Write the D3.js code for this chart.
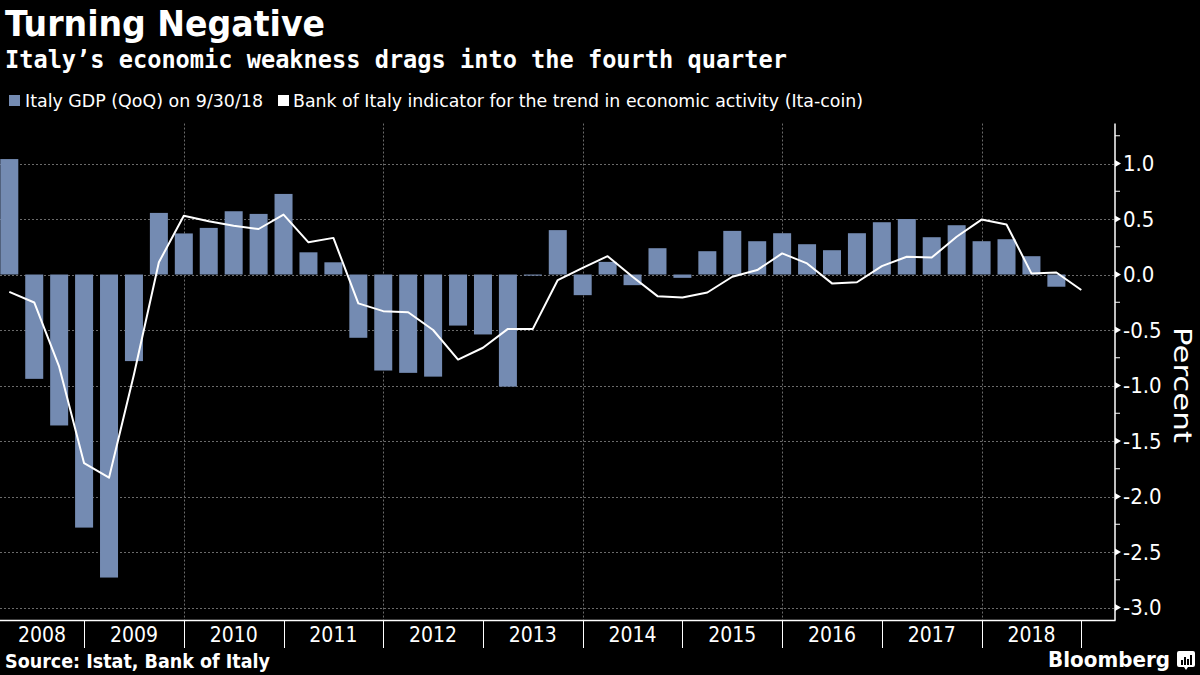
<!DOCTYPE html>
<html>
<head>
<meta charset="utf-8">
<script src="https://cdn.jsdelivr.net/npm/d3@7"></script>
<style>
  html, body { margin: 0; padding: 0; background: #000; }
  svg { display: block; }
</style>
</head>
<body>
<svg id="chart" width="1200" height="675"></svg>
<script>
// ---- Data ----
const years = [2008, 2009, 2010, 2011, 2012, 2013, 2014, 2015, 2016, 2017, 2018];
// Italy GDP QoQ, Q1 2008 .. Q3 2018
const gdpValues = [
  1.04, -0.94, -1.36, -2.28,
  -2.73, -0.78, 0.555, 0.37,
  0.42, 0.57, 0.546, 0.726,
  0.20, 0.11, -0.57, -0.865,
  -0.886, -0.92, -0.46, -0.54,
  -1.01, -0.01, 0.40, -0.186,
  0.114, -0.096, 0.237, -0.03,
  0.21, 0.393, 0.30, 0.372,
  0.273, 0.219, 0.372, 0.471,
  0.50, 0.336, 0.444, 0.30,
  0.318, 0.165, -0.11
];
// Ita-coin, Q1 2008 .. Q4 2018
const itaCoinValues = [
  -0.157, -0.252, -0.83, -1.70,
  -1.83, -0.90, 0.11, 0.53,
  0.48, 0.44, 0.41, 0.54,
  0.29, 0.33, -0.26, -0.33,
  -0.34, -0.50, -0.766, -0.66,
  -0.49, -0.49, -0.05, 0.06,
  0.165, -0.02, -0.195, -0.207,
  -0.162, -0.02, 0.04, 0.19,
  0.10, -0.08, -0.07, 0.075,
  0.16, 0.153, 0.34, 0.495,
  0.45, 0.01, 0.018, -0.14
];
const yTicks = [1.0, 0.5, 0.0, -0.5, -1.0, -1.5, -2.0, -2.5, -3.0];
const yMinorTicks = [1.25, 0.75, 0.25, -0.25, -0.75, -1.25, -1.75, -2.25, -2.75];
const gridYears = [2010, 2012, 2014, 2016, 2018];

const titleText = "Turning Negative";
const subtitleText = "Italy\u2019s economic weakness drags into the fourth quarter";
const legendLabels = ["Italy GDP (QoQ) on 9/30/18", "Bank of Italy indicator for the trend in economic activity (Ita-coin)"];
const sourceText = "Source: Istat, Bank of Italy";

// ---- Helpers ----
// quarter-end position in fractional years: Q1 2008 -> 2008.25
const qPos = i => 2008 + (i + 1) / 4;

const BAR = "#748bb2";
const GRID = "#6a6a6a";
const narrow = "'Liberation Sans Narrow', 'DejaVu Sans Condensed', 'Roboto Condensed', 'Arial Narrow', sans-serif";

const svg = d3.select("#chart");
svg.append("rect").attr("width", 1200).attr("height", 675).attr("fill", "#000");

const plotRight = 1115;
const plotBottom = 620.5;

const x = d3.scaleLinear().domain([2008.25, 2019]).range([9.3, 1081.3]);
const y = d3.scaleLinear().domain([-3.117, 1.36]).range([plotBottom, plotBottom - 4.477 * 111]);
const plotTop = y.range()[1];

// ---- Titles ----
svg.append("text").attr("x", 5).attr("y", 36)
  .attr("font-family", narrow).attr("font-weight", "bold").attr("font-size", 35)
  .attr("fill", "#fff").attr("textLength", 320).attr("lengthAdjust", "spacingAndGlyphs")
  .text(titleText);
svg.append("text").attr("x", 5).attr("y", 68)
  .attr("font-family", "'DejaVu Sans Mono', monospace").attr("font-weight", "bold").attr("font-size", 24)
  .attr("fill", "#fff").attr("textLength", 782).attr("lengthAdjust", "spacingAndGlyphs")
  .text(subtitleText);

// ---- Legend ----
const legend = [
  { sx: 9, tx: 25, tw: 238, color: BAR, label: legendLabels[0] },
  { sx: 278, tx: 293, tw: 570, color: "#fff", label: legendLabels[1] }
];
legend.forEach(l => {
  svg.append("rect").attr("x", l.sx).attr("y", 95).attr("width", 11).attr("height", 11).attr("fill", l.color);
  svg.append("text").attr("x", l.tx).attr("y", 107)
    .attr("font-family", narrow).attr("font-size", 18).attr("fill", "#fff")
    .attr("textLength", l.tw).attr("lengthAdjust", "spacingAndGlyphs")
    .text(l.label);
});

// ---- Grid ----
const grid = svg.append("g").attr("stroke", GRID).attr("stroke-width", 1).attr("stroke-dasharray", "2,2");
yTicks.forEach(t => {
  grid.append("line").attr("x1", 0).attr("x2", plotRight)
    .attr("y1", Math.round(y(t)) + 0.5).attr("y2", Math.round(y(t)) + 0.5);
});
gridYears.forEach(yr => {
  grid.append("line").attr("y1", plotTop).attr("y2", plotBottom)
    .attr("x1", Math.round(x(yr)) + 0.5).attr("x2", Math.round(x(yr)) + 0.5);
});

// ---- Bars ----
const barW = 18;
svg.append("g").selectAll("rect").data(gdpValues).join("rect")
  .attr("x", (d, i) => x(qPos(i)) - barW / 2)
  .attr("width", barW)
  .attr("y", d => y(Math.max(0, d)))
  .attr("height", d => Math.max(0.8, Math.abs(y(d) - y(0))))
  .attr("fill", BAR);

// ---- Line ----
const line = d3.line().x((d, i) => x(qPos(i))).y(d => y(d));
svg.append("path").datum(itaCoinValues)
  .attr("d", line).attr("fill", "none").attr("stroke", "#fff")
  .attr("stroke-width", 2).attr("stroke-linejoin", "round");

// ---- Axes frame ----
svg.append("line").attr("x1", 0).attr("x2", plotRight + 0.5)
  .attr("y1", plotBottom).attr("y2", plotBottom).attr("stroke", "#fff").attr("stroke-width", 1.5);
svg.append("line").attr("x1", plotRight).attr("x2", plotRight)
  .attr("y1", plotTop).attr("y2", plotBottom).attr("stroke", "#fff").attr("stroke-width", 1.5);

// y ticks
const yAx = svg.append("g");
yTicks.forEach(t => {
  const yy = y(t);
  yAx.append("path").attr("d", `M${plotRight},${yy - 3.5}L${plotRight + 6},${yy}L${plotRight},${yy + 3.5}Z`).attr("fill", "#fff");
  yAx.append("text").attr("x", plotRight + 8).attr("y", yy).attr("dy", "0.36em")
    .attr("font-family", narrow).attr("font-size", 22).attr("fill", "#fff")
    .text(t.toFixed(1));
});
yMinorTicks.forEach(t => {
  yAx.append("line").attr("x1", plotRight).attr("x2", plotRight + 5)
    .attr("y1", y(t)).attr("y2", y(t)).attr("stroke", "#fff").attr("stroke-width", 1);
});
svg.append("text")
  .attr("transform", `translate(1174, ${y(-0.5) + 55}) rotate(90)`)
  .attr("text-anchor", "middle")
  .attr("font-family", narrow).attr("font-size", 25).attr("fill", "#fff")
  .attr("textLength", 116).attr("lengthAdjust", "spacingAndGlyphs")
  .text("Percent");

// x axis: year separators and labels
const xAx = svg.append("g");
years.concat([2019]).forEach(yr => {
  const xx = x(yr);
  if (xx > 1 && xx < plotRight) {
    xAx.append("line").attr("x1", Math.round(xx) + 0.5).attr("x2", Math.round(xx) + 0.5)
      .attr("y1", plotBottom).attr("y2", 648).attr("stroke", "#fff").attr("stroke-width", 1);
  }
});
years.forEach(yr => {
  const a = Math.max(0, x(yr)), b = Math.min(plotRight, x(yr + 1));
  xAx.append("text").attr("x", (a + b) / 2).attr("y", 642)
    .attr("text-anchor", "middle")
    .attr("font-family", narrow).attr("font-size", 21).attr("fill", "#fff")
    .text(yr);
});

// ---- Footer ----
svg.append("text").attr("x", 5).attr("y", 668)
  .attr("font-family", narrow).attr("font-weight", "bold").attr("font-size", 19).attr("fill", "#fff")
  .attr("textLength", 265).attr("lengthAdjust", "spacingAndGlyphs")
  .text(sourceText);
svg.append("text").attr("x", 1048).attr("y", 667)
  .attr("font-family", "'DejaVu Sans', sans-serif").attr("font-weight", "bold").attr("font-size", 21).attr("fill", "#fff")
  .attr("textLength", 122).attr("lengthAdjust", "spacingAndGlyphs")
  .text("Bloomberg");
// logo mark
const logo = svg.append("g").attr("transform", "translate(1177,651)");
logo.append("path")
  .attr("d", "M2,0H16Q18,0 18,2V14Q18,16 16,16H11L9,19L7,16H2Q0,16 0,14V2Q0,0 2,0Z")
  .attr("fill", "#fff");
[[4, 9, 5], [7, 6, 8], [10, 8, 6], [13, 4, 10]].forEach(([bx, by, bh]) => {
  logo.append("rect").attr("x", bx).attr("y", by).attr("width", 2).attr("height", bh - (by + bh > 14 ? by + bh - 14 : 0)).attr("fill", "#000");
});
</script>
</body>
</html>
